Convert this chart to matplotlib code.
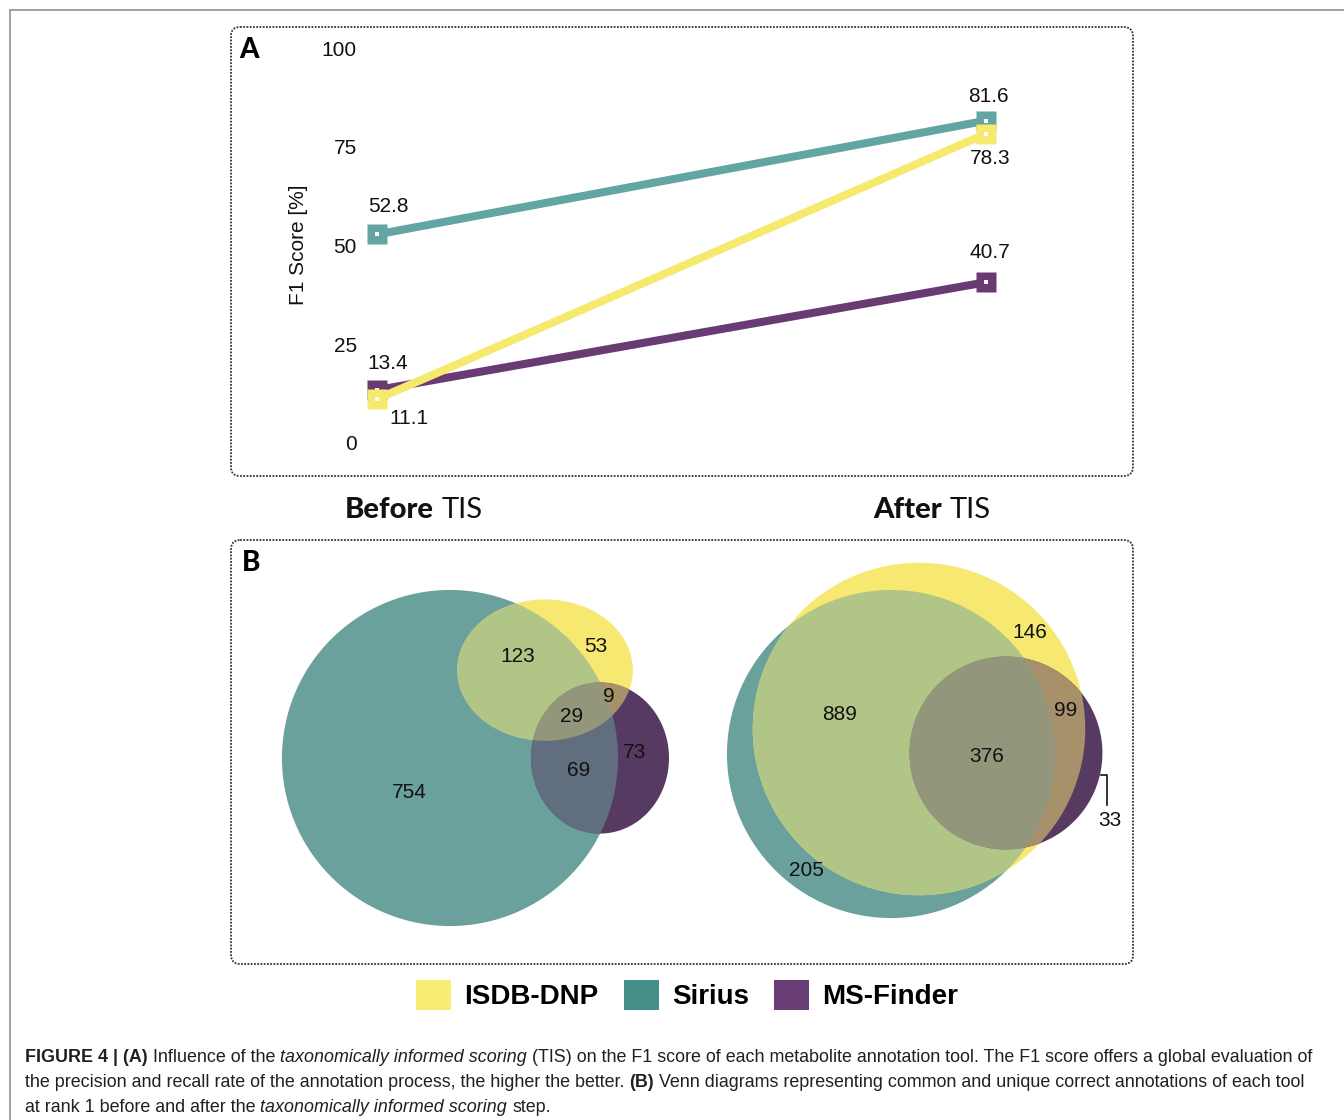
"""Figura 4: F1 antes/depois do TIS (A) e diagramas de Venn das anotacoes (B)."""

import numpy as np
import matplotlib

matplotlib.use("Agg")
import matplotlib.pyplot as plt
from matplotlib.patches import FancyBboxPatch, Polygon, Patch

W, H = 1344, 1120

# ---- dados
TOOLS = ["ISDB-DNP", "Sirius", "MS-Finder"]
STAGES = ["Before", "After"]
F1_ISDB = [11.1, 78.3]
F1_SIRIUS = [52.8, 81.6]
F1_MSFINDER = [13.4, 40.7]
Y_TICKS = [0, 25, 50, 75, 100]
# regioes: S so, I so, M so, S&I, S&M, I&M, S&I&M  (S=Sirius, I=ISDB-DNP, M=MS-Finder)
VENN_BEFORE = [754, 53, 73, 123, 69, 9, 29]
VENN_AFTER = [205, 146, 33, 889, 0, 99, 376]

# ---- estilo
LINE_COL = {"ISDB-DNP": "#f6ea6e", "Sirius": "#62a5a2", "MS-Finder": "#6a3b73"}
LEGEND_COL = {"ISDB-DNP": "#f7ec74", "Sirius": "#458f8a", "MS-Finder": "#693e75"}
VENN_RGB = {"S": (106, 161, 156), "I": (247, 232, 114), "M": (87, 58, 98)}
# deslocamento (px) dos rotulos de valor no painel A
LABEL_OFF = {"ISDB-DNP": [(32, -19), (4, -25)],
             "Sirius": [(11, 28), (2, 24)],
             "MS-Finder": [(11, 27), (4, 30)]}
# layout dos Venn em pixels; area de cada conjunto = k * tamanho
VENN_LAYOUT = [
    dict(counts=VENN_BEFORE, k=91.0,
         centers=[(450, 758), (545, 670), (600, 758)], aspect=[1.0, 1.243, 0.913],
         label_xy=[(409, 792), (596, 646), (635, 753), (518, 656), (579, 770),
                   (609, 697), (572, 716)], leader=None),
    dict(counts=VENN_AFTER, k=57.5,
         centers=[(891, 754), (919, 729), (1006, 753)], aspect=[1.0, 1.0, 1.0],
         label_xy=[(806, 870), (1030, 633), (1110, 820), (840, 715), None,
                   (1066, 710), (987, 757)],
         leader=[(1101, 775), (1107, 775), (1107, 805)]),
]

NUM_FONT = "Liberation Sans"
HEAD_FONT = "Lato"
CAP_FONT = ["Liberation Sans Narrow", "Liberation Sans"]


def ellipse_poly(cx, cy, a, b, n=240):
    t = np.linspace(0, 2 * np.pi, n, endpoint=False)
    return np.column_stack([cx + a * np.cos(t), cy + b * np.sin(t)])


def _cross_pt(p1, p2, p3, p4):
    x1, y1 = p1
    x2, y2 = p2
    x3, y3 = p3
    x4, y4 = p4
    d = (x1 - x2) * (y3 - y4) - (y1 - y2) * (x3 - x4)
    a = x1 * y2 - y1 * x2
    b = x3 * y4 - y3 * x4
    return ((a * (x3 - x4) - (x1 - x2) * b) / d, (a * (y3 - y4) - (y1 - y2) * b) / d)


def clip_convex(subject, clipper):
    # Sutherland-Hodgman (ambos convexos, clipper anti-horario)
    out = [tuple(p) for p in subject]
    n = len(clipper)
    for i in range(n):
        if not out:
            break
        a, b = clipper[i], clipper[(i + 1) % n]

        def inside(p):
            return (b[0] - a[0]) * (p[1] - a[1]) - (b[1] - a[1]) * (p[0] - a[0]) >= 0

        inp, out = out, []
        s = inp[-1]
        for e in inp:
            if inside(e):
                if not inside(s):
                    out.append(_cross_pt(s, e, a, b))
                out.append(e)
            elif inside(s):
                out.append(_cross_pt(s, e, a, b))
            s = e
    return np.array(out)


def mix(*keys):
    rgb = np.mean([VENN_RGB[k] for k in keys], axis=0) / 255
    return tuple(rgb)


def text_width(ax, s, renderer, **kw):
    t1 = ax.text(0, 0, "|" + s + "|", **kw)
    t2 = ax.text(0, 0, "||", **kw)
    w = t1.get_window_extent(renderer).width - t2.get_window_extent(renderer).width
    t1.remove()
    t2.remove()
    return w


def draw_runs(ax, x, y, runs, ha="left", **common):
    renderer = ax.figure.canvas.get_renderer()
    widths = [text_width(ax, s, renderer, **common, **kw) for s, kw in runs]
    if ha == "center":
        x -= sum(widths) / 2
    for (s, kw), w in zip(runs, widths):
        lead = len(s) - len(s.lstrip(" "))
        off = text_width(ax, " " * lead, renderer, **common, **kw) if lead else 0
        ax.text(x + off, y, s.lstrip(" "), ha="left", va="baseline", **common, **kw)
        x += w
    return sum(widths)


def px_axes(fig, l, t, r, b):
    return fig.add_axes([l / W, 1 - b / H, (r - l) / W, (b - t) / H])


fig = plt.figure(figsize=(W / 100, H / 100), dpi=100)
fig.patch.set_facecolor("white")

# fundo em coordenadas de pixel
bg = px_axes(fig, 0, 0, W, H)
bg.set_xlim(0, W)
bg.set_ylim(H, 0)
bg.axis("off")

bg.plot([10, W], [10, 10], color="#9a9a9a", lw=1.3)
bg.plot([10, 10], [10, H], color="#9a9a9a", lw=1.3)
for top, bot in [(27, 476), (540, 964)]:
    bg.add_patch(FancyBboxPatch((231, top), 902, bot - top,
                                boxstyle="round,pad=0,rounding_size=9",
                                fill=False, ec="#333333", lw=1.3, ls=(0, (1, 0.8))))

bg.text(239, 58, "A", fontsize=20, fontfamily=HEAD_FONT, fontweight="black",
        va="baseline")
bg.text(242, 571, "B", fontsize=20, fontfamily=HEAD_FONT, fontweight="black",
        va="baseline")

# ---- painel A
ax = px_axes(fig, 365, 48, 1000, 443)
ax.set_facecolor("none")
ax.set_xlim(-(377 - 365) / 609, 1 + (1000 - 986) / 609)
ax.set_ylim(0, 100)
xs = np.arange(len(STAGES))
series = {"ISDB-DNP": F1_ISDB, "Sirius": F1_SIRIUS, "MS-Finder": F1_MSFINDER}
for name in ["MS-Finder", "Sirius", "ISDB-DNP"]:
    vals = series[name]
    ax.plot(xs, vals, "-s", color=LINE_COL[name], lw=5.8, ms=14.5, mec="none",
            clip_on=False, solid_capstyle="butt", zorder=2)
    ax.plot(xs, vals, "s", color="white", ms=2.3, mew=0, clip_on=False, zorder=2)
    for xi, v, off in zip(xs, vals, LABEL_OFF[name]):
        ax.annotate(f"{v:.1f}", (xi, v), xytext=off, textcoords="offset pixels",
                    ha="center", va="center", fontsize=15, fontfamily=NUM_FONT,
                    color="#111111")
ax.set_yticks(Y_TICKS)
ax.set_xticks([])
ax.tick_params(axis="y", length=0, pad=5.8, labelsize=15, labelcolor="#111111")
for lab in ax.get_yticklabels():
    lab.set_fontfamily(NUM_FONT)
for sp in ax.spines.values():
    sp.set_visible(False)
bg.text(298, 245, "F1 Score [%]", rotation=90, ha="center", va="center",
        fontsize=15, fontfamily=NUM_FONT, color="#111111")

# ---- titulos antes/depois
for cx, stage in zip([414, 932], STAGES):
    draw_runs(bg, cx, 518, [(stage, dict(fontweight="black")), (" TIS", dict(fontweight="normal"))],
              ha="center", fontsize=21, fontfamily=HEAD_FONT, color="#111111")

# ---- painel B (Venn)
for lay in VENN_LAYOUT:
    r = lay["counts"]
    sizes = [r[0] + r[3] + r[4] + r[6], r[1] + r[3] + r[5] + r[6], r[2] + r[4] + r[5] + r[6]]
    polys = {}
    for key, size, (cx, cy), e in zip("SIM", sizes, lay["centers"], lay["aspect"]):
        b = np.sqrt(size * lay["k"] / (np.pi * e))
        polys[key] = ellipse_poly(cx, cy, e * b, b)
    for key in "SIM":
        bg.add_patch(Polygon(polys[key], closed=True, fc=mix(key), lw=0))
    for k1, k2 in [("S", "I"), ("S", "M"), ("I", "M")]:
        reg = clip_convex(polys[k1], polys[k2])
        if len(reg) > 2:
            bg.add_patch(Polygon(reg, closed=True, fc=mix(k1, k2), lw=0))
    tri = clip_convex(clip_convex(polys["S"], polys["I"]), polys["M"])
    if len(tri) > 2:
        bg.add_patch(Polygon(tri, closed=True, fc=mix("S", "I", "M"), lw=0))
    for n, xy in zip(r, lay["label_xy"]):
        if xy is None or n == 0:
            continue
        bg.text(xy[0], xy[1], str(n), ha="center", va="center", fontsize=15,
                fontfamily=NUM_FONT, color="#111111")
    if lay["leader"]:
        lx, ly = zip(*lay["leader"])
        bg.plot(lx, ly, color="#111111", lw=1.2)

# ---- legenda
handles = [Patch(fc=LEGEND_COL[t], ec="none", label=t) for t in TOOLS]
bg.legend(handles=handles, loc="center", bbox_to_anchor=(687, 995),
          bbox_transform=bg.transData, ncol=3, frameon=False,
          prop=dict(family=NUM_FONT, weight="bold", size=20),
          handlelength=1.26, handleheight=1.26, handletextpad=0.47,
          columnspacing=0.9, borderpad=0, borderaxespad=0)

# ---- legenda da figura (texto)
caption = [
    [("FIGURE 4 | (A)", dict(fontweight="bold")), (" Influence of the ", {}),
     ("taxonomically informed scoring", dict(fontstyle="italic")),
     (" (TIS) on the F1 score of each metabolite annotation tool. The F1 score offers a global evaluation of", {})],
    [("the precision and recall rate of the annotation process, the higher the better. ", {}),
     ("(B)", dict(fontweight="bold")),
     (" Venn diagrams representing common and unique correct annotations of each tool", {})],
    [("at rank 1 before and after the ", {}),
     ("taxonomically informed scoring", dict(fontstyle="italic")), (" step.", {})],
]
rend = fig.canvas.get_renderer()
w10 = sum(text_width(bg, s, rend, fontsize=10, fontfamily=CAP_FONT, **kw)
          for s, kw in caption[0])
cap_size = 10 * 1293 / w10
for i, line in enumerate(caption):
    draw_runs(bg, 25, 1062 + 25 * i, line, fontsize=cap_size, fontfamily=CAP_FONT,
              color="#231f20")

fig.savefig("out.png", dpi=100)
